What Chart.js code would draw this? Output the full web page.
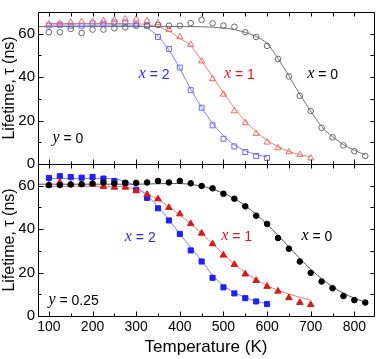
<!DOCTYPE html>
<html><head><meta charset="utf-8">
<script src="https://cdn.jsdelivr.net/npm/chart.js@4.4.1/dist/chart.umd.min.js"></script>
<style>html,body{margin:0;padding:0;background:#fff}#wrap{width:379px;height:359px;position:relative}</style>
</head><body><div id="wrap"><canvas id="c"></canvas></div>
<script>
// ---- data ----
const xTicks = [100,200,300,400,500,600,700,800];
const yTicks = [0,20,40,60];

const T_x0 = [100,125,150,175,200,225,250,275,300,325,350,375,400,425,450,475,500,525,550,575,600,625,650,675,700,725,750,775,800,825];
const T_x1 = [100,125,150,175,200,225,250,275,300,325,350,375,400,425,450,475,500,525,550,575,600,625,650,675,700];
const T_x2 = [100,125,150,175,200,225,250,275,300,325,350,375,400,425,450,475,500,525,550,575,600];

// y = 0 panel (open symbols)
const top_x0 = [60.7,60.7,62.2,60.3,61.9,61.9,62.5,63.0,63.7,63.7,64.0,63.7,63.7,64.9,66.4,64.8,63.7,63.2,60.7,58.5,54.4,48.4,40.3,31.4,24.4,16.7,12.3,8.6,5.9,3.7];
const top_x1 = [64.5,64.8,65.2,65.5,65.5,66.0,66.4,66.7,66.7,66.0,65.0,61.9,58.5,55.0,47.4,39.2,32.1,24.4,18.9,14.0,10.0,7.4,5.5,4.3,2.7];
const top_x2 = [63.8,64.1,63.7,63.7,64.7,64.7,65.2,65.2,64.3,63.7,58.5,53.0,44.4,34.0,25.9,17.8,11.6,8.1,5.5,3.7,2.8];

// y = 0.25 panel (filled symbols)
const bot_x0 = [60.3,60.3,60.6,60.7,61.0,61.5,61.0,61.3,61.3,61.5,62.2,61.5,62.2,61.1,59.9,58.8,56.3,54.0,50.5,46.2,42.4,35.9,31.0,25.1,19.9,15.9,12.8,9.2,7.3,6.2];
const bot_x1 = [60.3,61.5,60.6,60.8,60.8,59.6,59.3,59.3,57.6,55.9,53.9,49.9,47.0,42.5,38.1,33.2,28.0,23.7,19.3,16.3,13.6,11.4,8.4,6.2,5.2];
const bot_x2 = [63.6,64.4,64.0,63.7,64.0,63.3,62.2,61.3,58.1,54.4,49.6,44.0,37.8,30.2,25.1,17.6,13.2,10.4,8.2,6.7,5.5];

// fitted curves
const fitT_x0 = [75,100,125,150,175,200,225,250,275,300,325,350,375,400,425,450,475,500,525,550,575,600,625,650,675,700,725,750,775,800,825];
const fitT_x1 = T_x1;
const fitT_x2 = T_x2;
const topFit_x0 = [63.3,63.3,63.3,63.3,63.3,63.3,63.3,63.3,63.3,63.3,63.3,63.3,63.3,63.3,63.3,63.2,63.0,62.6,61.9,60.6,58.7,55.5,48.6,40.6,32.0,24.4,17.2,12.6,8.9,6.3,4.2];
const topFit_x1 = [64.7,64.7,64.7,64.7,64.7,64.7,64.7,64.7,64.6,64.2,63.2,61.2,57.8,54.5,47.5,40.3,32.8,25.8,19.8,14.9,11.0,8.0,5.8,4.3,3.4];
const topFit_x2 = [64.0,64.0,64.0,64.0,64.0,64.0,64.0,64.0,63.9,62.5,58.8,52.5,44.0,34.5,26.0,18.8,13.0,8.8,6.1,4.4,3.3];
const botFit_x0 = [60.7,60.7,60.7,60.7,60.7,60.7,60.7,60.7,60.7,60.7,60.8,60.9,61.0,61.0,60.6,59.8,58.4,56.5,54.0,50.8,46.8,42.2,37.2,31.8,26.5,21.5,17.2,13.5,10.5,8.2,6.4];
const botFit_x1 = [59.7,59.7,59.7,59.7,59.7,59.7,59.7,59.4,58.2,56.2,53.5,50.3,46.5,42.5,38.0,33.2,28.5,24.0,20.0,16.8,14.0,11.9,10.1,8.6,7.3];
const botFit_x2 = [63.4,63.4,63.4,63.4,63.4,63.4,63.0,62.0,59.6,55.5,50.3,44.3,37.8,31.5,25.5,18.8,14.0,10.8,8.5,6.8,5.6];

const pts = (xs, ys) => xs.map((x, i) => ({x, y: ys[i]}));

function markers(xs, ys, axis, style, color, filled, r) {
  return { data: pts(xs, ys), yAxisID: axis, showLine: false, pointStyle: style,
    pointRadius: r, pointBorderWidth: 1, pointBorderColor: color,
    pointBackgroundColor: filled ? color : 'rgba(0,0,0,0)', order: 1 };
}
function fit(xs, ys, axis, color) {
  return { data: pts(xs, ys), yAxisID: axis, showLine: true, pointRadius: 0,
    borderColor: color, borderWidth: 1, cubicInterpolationMode: 'monotone', fill: false, order: 2 };
}

const datasets = [
  fit(fitT_x0, topFit_x0, 'yTop', '#6e6e6e'),
  fit(fitT_x1, topFit_x1, 'yTop', '#f07a7a'),
  fit(fitT_x2, topFit_x2, 'yTop', '#7f7fff'),
  markers(T_x0, top_x0, 'yTop', 'circle', '#666666', false, 2.8),
  markers(T_x1, top_x1, 'yTop', 'triangle', '#ec6a6a', false, 3.6),
  markers(T_x2, top_x2, 'yTop', 'rect', '#6a6aff', false, 3.5),
  fit(fitT_x0, botFit_x0, 'yBot', '#555555'),
  fit(fitT_x1, botFit_x1, 'yBot', '#f07a7a'),
  fit(fitT_x2, botFit_x2, 'yBot', '#7a7aff'),
  markers(T_x0, bot_x0, 'yBot', 'circle', '#000000', true, 2.8),
  markers(T_x1, bot_x1, 'yBot', 'triangle', '#d41c1c', true, 3.8),
  markers(T_x2, bot_x2, 'yBot', 'rect', '#1f1fff', true, 3.6)
];

// annotation labels: [T, value, axis, italic var, rest, color]
const labels = [
  [306, 41.5, 'yTop', 'x', ' = 2', '#2a2aff'],
  [501, 41.5, 'yTop', 'x', ' = 1', '#e01b1b'],
  [692, 41.5, 'yTop', 'x', ' = 0', '#000000'],
  [108, 12.0, 'yTop', 'y', ' = 0', '#000000'],
  [274, 36.5, 'yBot', 'x', ' = 2', '#2a2aff'],
  [495, 36.8, 'yBot', 'x', ' = 1', '#e01b1b'],
  [679, 36.8, 'yBot', 'x', ' = 0', '#000000'],
  [99, 7.4, 'yBot', 'y', ' = 0.25', '#000000']
];

const framePlugin = {
  id: 'frame',
  afterDraw(chart) {
    const ctx = chart.ctx, xs = chart.scales.x, a = chart.chartArea;
    ctx.save();
    ctx.strokeStyle = '#000'; ctx.lineWidth = 1;
    ['yTop', 'yBot'].forEach(id => {
      const ys = chart.scales[id];
      const top = Math.round(ys.top) + 0.5, bot = Math.round(ys.bottom) + 0.5;
      const L = Math.round(a.left) + 0.5, R = Math.round(a.right) + 0.5;
      ctx.beginPath(); ctx.rect(L, top, R - L, bot - top); ctx.stroke();
      ctx.beginPath();
      for (let v = 0; v <= 70; v += 10) {
        const y = Math.round(ys.getPixelForValue(v)) + 0.5;
        const len = (v % 20 === 0) ? 5 : 3;
        ctx.moveTo(L, y); ctx.lineTo(L + len, y);
        ctx.moveTo(R, y); ctx.lineTo(R - 4, y);
      }
      for (let t = 100; t <= 800; t += 50) {
        const x = Math.round(xs.getPixelForValue(t)) + 0.5;
        const len = (t % 100 === 0) ? 5 : 3;
        ctx.moveTo(x, bot); ctx.lineTo(x, bot - len);
        ctx.moveTo(x, top); ctx.lineTo(x, top + 4);
      }
      ctx.stroke();
    });
    ctx.textBaseline = 'middle'; ctx.textAlign = 'left';
    labels.forEach(([t, v, id, vn, rest, col]) => {
      const x = xs.getPixelForValue(t), y = chart.scales[id].getPixelForValue(v);
      ctx.fillStyle = col;
      ctx.font = 'italic 16px "Liberation Serif"';
      ctx.fillText(vn, x, y);
      const w = ctx.measureText(vn).width;
      ctx.font = '14px "Liberation Sans"';
      ctx.fillText(rest, x + w, y + 1);
    });
    ctx.restore();
  }
};

const yScale = (weight) => ({
  type: 'linear', position: 'left', stack: 'panels', stackWeight: 1,
  min: 0, max: 70,
  afterBuildTicks: s => { s.ticks = yTicks.map(v => ({value: v})); },
  afterFit: s => { s.width = 38; },
  grid: { display: false, drawTicks: false }, border: { display: false },
  ticks: { font: { size: 15, family: 'Liberation Sans' }, color: '#000', padding: 3 },
  title: { display: true, text: 'Lifetime, \u03c4 (ns)', font: { size: 16, family: 'Liberation Sans' }, color: '#000', padding: { top: 0, bottom: 0 } }
});

Chart.defaults.font.family = 'Liberation Sans';
new Chart(document.getElementById('c'), {
  type: 'line',
  data: { datasets },
  options: {
    animation: false, responsive: true, maintainAspectRatio: false, devicePixelRatio: 1,
    layout: { padding: { top: 0, right: 3, left: 0, bottom: 0 } },
    plugins: { legend: { display: false }, tooltip: { enabled: false } },
    scales: {
      x: { type: 'linear', min: 75, max: 845,
        afterBuildTicks: s => { s.ticks = xTicks.map(v => ({value: v})); },
        afterFit: s => { s.height = 43; },
        grid: { display: false, drawTicks: false }, border: { display: false },
        ticks: { font: { size: 14, family: 'Liberation Sans' }, color: '#000', padding: 3, maxRotation: 0, autoSkip: false },
        title: { display: true, text: 'Temperature (K)', font: { size: 17, family: 'Liberation Sans' }, color: '#000', padding: { top: 0, bottom: 1 } }
      },
      yBot: yScale(),
      yTop: yScale()
    }
  },
  plugins: [framePlugin]
});
</script></body></html>
